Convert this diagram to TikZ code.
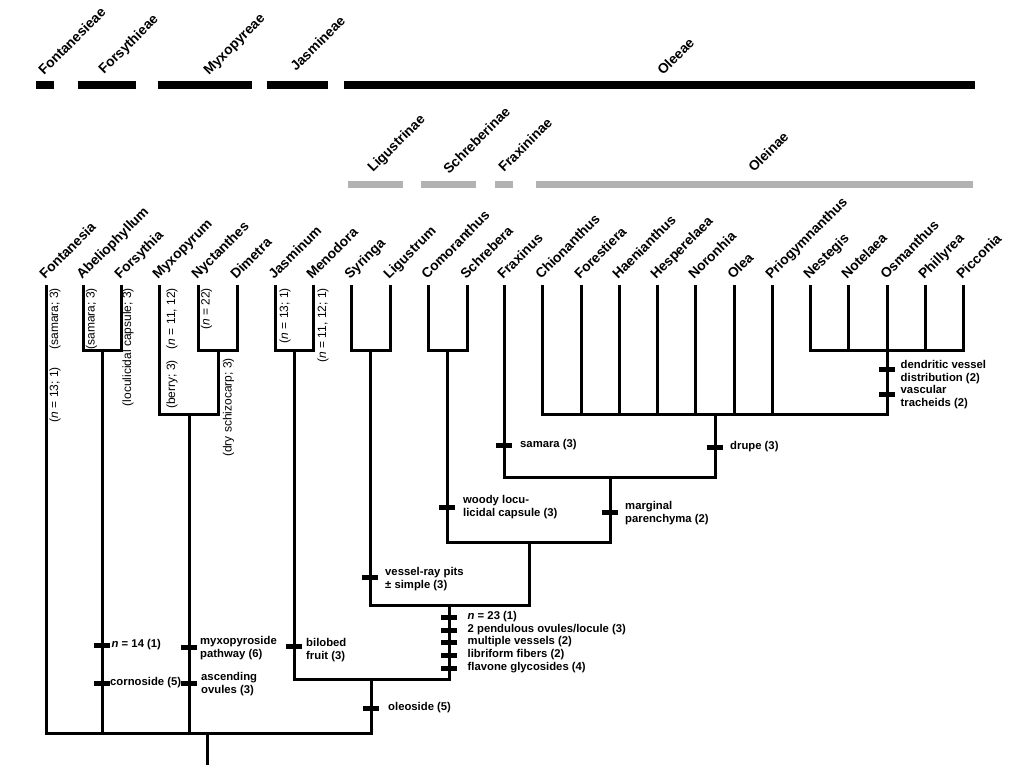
\documentclass[tikz,border=0pt]{standalone}
\usepackage{fontspec}
\setmainfont{Liberation Sans}
\usepackage{tikz}

\tikzset{
	taxon/.style={rotate=45, anchor=base west, inner sep=0pt, font=\bfseries\fontsize{13.8}{16}\selectfont},
	vlab/.style={rotate=90, anchor=east, inner sep=0pt, font=\fontsize{12}{14}\selectfont},
	trait/.style={anchor=west, inner sep=0pt, align=left, font=\bfseries\fontsize{11.3}{13}\selectfont},
	tick/.style={rectangle, fill=black, inner sep=0pt, minimum width=16pt, minimum height=5pt},
	branch/.style={line width=3pt},
	tribebar/.style={line width=8pt},
	subbar/.style={line width=7pt, gray!60},
}

\begin{document}
\begin{tikzpicture}[x=1pt, y=-1pt]
	\useasboundingbox (0,0) rectangle (1024,771);

	\draw[tribebar] (36,85) -- (54,85);
	\draw[tribebar] (78,85) -- (136,85);
	\draw[tribebar] (158,85) -- (252,85);
	\draw[tribebar] (267,85) -- (328,85);
	\draw[tribebar] (344,85) -- (975,85);
	\node (fontanesieae)[taxon] at (44,76) {Fontanesieae};
	\node (forsythieae)[taxon] at (104,75) {Forsythieae};
	\node (myxopyreae)[taxon] at (209,76) {Myxopyreae};
	\node (jasmineae)[taxon] at (296,72) {Jasmineae};
	\node (oleeae)[taxon] at (663,76) {Oleeae};

	\draw[subbar] (348,184.5) -- (403,184.5);
	\draw[subbar] (421,184.5) -- (476,184.5);
	\draw[subbar] (495,184.5) -- (513,184.5);
	\draw[subbar] (536,184.5) -- (973,184.5);
	\node (ligustrinae)[taxon] at (373,173) {Ligustrinae};
	\node (schreberinae)[taxon] at (449,175) {Schreberinae};
	\node (fraxininae)[taxon] at (504,173) {Fraxininae};
	\node (oleinae)[taxon] at (754,173) {Oleinae};

	\coordinate (fon) at (46,285);
	\coordinate (abe) at (83,285);
	\coordinate (fors) at (121,285);
	\coordinate (myx) at (159,285);
	\coordinate (nyc) at (198,285);
	\coordinate (dim) at (237,285);
	\coordinate (jas) at (275,285);
	\coordinate (men) at (313,285);
	\coordinate (syr) at (351,285);
	\coordinate (lig) at (390,285);
	\coordinate (com) at (428,285);
	\coordinate (sch) at (467,285);
	\coordinate (fra) at (504,285);
	\coordinate (chi) at (542,285);
	\coordinate (fore) at (581,285);
	\coordinate (hae) at (619,285);
	\coordinate (hes) at (657,285);
	\coordinate (nor) at (695,285);
	\coordinate (ole) at (734,285);
	\coordinate (pri) at (772,285);
	\coordinate (nes) at (810,285);
	\coordinate (not) at (848,285);
	\coordinate (osm) at (887,285);
	\coordinate (phi) at (925,285);
	\coordinate (pic) at (963,285);

	\node (fonL)[taxon] at (45,280) {Fontanesia};
	\node (abeL)[taxon] at (82,280) {Abeliophyllum};
	\node (forsL)[taxon] at (120,280) {Forsythia};
	\node (myxL)[taxon] at (158,280) {Myxopyrum};
	\node (nycL)[taxon] at (197,280) {Nyctanthes};
	\node (dimL)[taxon] at (236,280) {Dimetra};
	\node (jasL)[taxon] at (274,280) {Jasminum};
	\node (menL)[taxon] at (312,280) {Menodora};
	\node (syrL)[taxon] at (350,280) {Syringa};
	\node (ligL)[taxon] at (389,280) {Ligustrum};
	\node (comL)[taxon] at (427,280) {Comoranthus};
	\node (schL)[taxon] at (466,280) {Schrebera};
	\node (fraL)[taxon] at (503,280) {Fraxinus};
	\node (chiL)[taxon] at (541,280) {Chionanthus};
	\node (foreL)[taxon] at (580,280) {Forestiera};
	\node (haeL)[taxon] at (618,280) {Haenianthus};
	\node (hesL)[taxon] at (656,280) {Hesperelaea};
	\node (norL)[taxon] at (694,280) {Noronhia};
	\node (oleL)[taxon] at (733,280) {Olea};
	\node (priL)[taxon] at (771,280) {Priogymnanthus};
	\node (nesL)[taxon] at (809,280) {Nestegis};
	\node (notL)[taxon] at (847,280) {Notelaea};
	\node (osmL)[taxon] at (886,280) {Osmanthus};
	\node (phiL)[taxon] at (924,280) {Phillyrea};
	\node (picL)[taxon] at (962,280) {Picconia};

	\coordinate (abefor) at (102,350);
	\coordinate (nycdim) at (218,350);
	\coordinate (myxJ) at (189,414);
	\coordinate (jasmen) at (294,350);
	\coordinate (syrlig) at (370,350);
	\coordinate (comsch) at (447,350);
	\coordinate (nesJ) at (887,350);
	\coordinate (olei) at (715,414);
	\coordinate (fraole) at (610,477);
	\coordinate (schole) at (529,542);
	\coordinate (olee) at (449,605);
	\coordinate (jo) at (371,679);
	\coordinate (root) at (207,733);
	\coordinate (base) at (207,765);

	\draw[branch] (fon) |- (root) -| (jo);
	\draw[branch] (root) -- (base);
	\draw[branch] (abe) |- (abefor) -| (fors);
	\draw[branch] (abefor) -- (abefor |- root);
	\draw[branch] (nyc) |- (nycdim) -| (dim);
	\draw[branch] (myx) |- (myxJ) -| (nycdim);
	\draw[branch] (myxJ) -- (myxJ |- root);
	\draw[branch] (jas) |- (jasmen) -| (men);
	\draw[branch] (jasmen) |- (jo) -| (olee);
	\draw[branch] (syr) |- (syrlig) -| (lig);
	\draw[branch] (syrlig) |- (olee) -| (schole);
	\draw[branch] (com) |- (comsch) -| (sch);
	\draw[branch] (comsch) |- (schole) -| (fraole);
	\draw[branch] (fra) |- (fraole) -| (olei);
	\draw[branch] (chi) |- (olei) -| (nesJ);
	\draw[branch] (fore) -- (fore |- olei);
	\draw[branch] (hae) -- (hae |- olei);
	\draw[branch] (hes) -- (hes |- olei);
	\draw[branch] (nor) -- (nor |- olei);
	\draw[branch] (ole) -- (ole |- olei);
	\draw[branch] (pri) -- (pri |- olei);
	\draw[branch] (nes) |- (nesJ) -| (pic);
	\draw[branch] (not) -- (not |- nesJ);
	\draw[branch] (phi) -- (phi |- nesJ);
	\draw[branch] (osm) -- (nesJ);

	\node (fonV1)[vlab] at (55,288) {(samara; 3)};
	\node (fonV2)[vlab] at (55,367) {(\textit{n} = 13; 1)};
	\node (abeV)[vlab] at (91.5,288) {(samara; 3)};
	\node (forsV)[vlab] at (128,288) {(loculicidal capsule; 3)};
	\node (myxV1)[vlab] at (172,288) {(\textit{n} = 11, 12)};
	\node (myxV2)[vlab] at (172,360) {(berry; 3)};
	\node (nycV)[vlab] at (206.5,288) {(\textit{n} = 22)};
	\node (dimV)[vlab] at (228.5,358) {(dry schizocarp; 3)};
	\node (jasV)[vlab] at (285,288) {(\textit{n} = 13; 1)};
	\node (menV)[vlab] at (323,288) {(\textit{n} = 11, 12; 1)};

	\node (tN14)[tick] at (102,645) {};
	\node (tCor)[tick] at (102,683) {};
	\node (tMyx)[tick] at (189,647) {};
	\node (tAsc)[tick] at (189,683) {};
	\node (tBil)[tick] at (294,646) {};
	\node (tOle)[tick] at (371,708) {};
	\node (tVes)[tick] at (370,577) {};
	\node (tWoo)[tick] at (447,507) {};
	\node (tMar)[tick] at (610,512) {};
	\node (tSam)[tick] at (504,445) {};
	\node (tDru)[tick] at (715,447) {};
	\node (tDen)[tick] at (887,369) {};
	\node (tVas)[tick] at (887,394) {};
	\node (tN23)[tick] at (449,617) {};
	\node (tPen)[tick] at (449,630) {};
	\node (tMul)[tick] at (449,642) {};
	\node (tLib)[tick] at (449,655) {};
	\node (tFla)[tick] at (449,668) {};

	\node (n14)[trait] at (111.5,645) {\textit{n} = 14 (1)};
	\node (cor)[trait] at (110,683) {cornoside (5)};
	\node (myxp)[trait] at (200,648.5) {myxopyroside\\pathway (6)};
	\node (asc)[trait] at (201,684) {ascending\\ovules (3)};
	\node (bil)[trait] at (306,650) {bilobed\\fruit (3)};
	\node (oleo)[trait] at (388,708) {oleoside (5)};
	\node (ves)[trait] at (385,579.5) {vessel-ray pits\\± simple (3)};
	\node (woo)[trait] at (463,507) {woody locu-\\licidal capsule (3)};
	\node (mar)[trait] at (625,513.5) {marginal\\parenchyma (2)};
	\node (sam)[trait] at (520,445) {samara (3)};
	\node (dru)[trait] at (730,447) {drupe (3)};
	\node (den)[trait] at (900.5,372) {dendritic vessel\\distribution (2)};
	\node (vas)[trait] at (900.5,397) {vascular\\tracheids (2)};
	\node (n23)[trait] at (467.5,617) {\textit{n} = 23 (1)};
	\node (pen)[trait] at (467.5,630) {2 pendulous ovules/locule (3)};
	\node (mul)[trait] at (467.5,642) {multiple vessels (2)};
	\node (lib)[trait] at (467.5,655) {libriform fibers (2)};
	\node (fla)[trait] at (467.5,668) {flavone glycosides (4)};
\end{tikzpicture}
\end{document}
